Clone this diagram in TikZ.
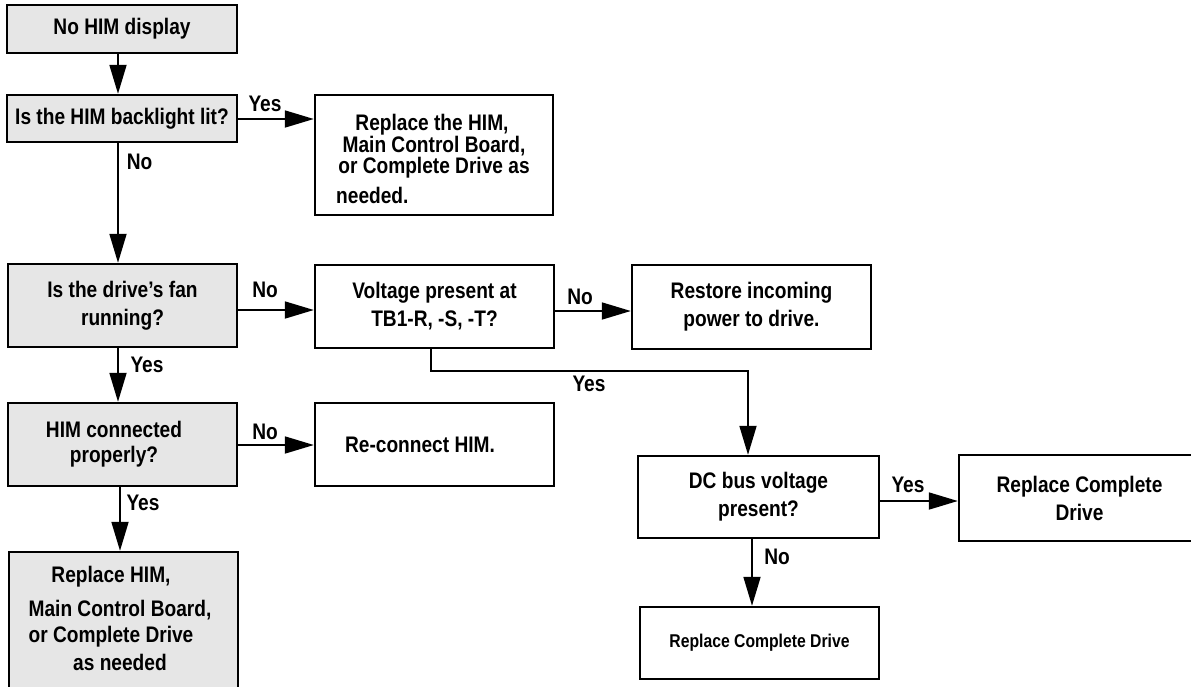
\documentclass[tikz,border=0pt]{standalone}
\usepackage{fontspec}
\newfontfamily\nar{Liberation Sans}[FakeStretch=0.85]
\usetikzlibrary{arrows.meta}
\definecolor{boxgray}{RGB}{230,230,230}
\begin{document}
\begin{tikzpicture}[x=1pt,y=-1pt,
  every node/.style={font=\nar\bfseries\fontsize{22.5}{28}\selectfont, inner sep=0pt},
  box/.style={draw, line width=2.4pt, align=center},
  gbox/.style={box, fill=boxgray},
  small/.style={font=\nar\bfseries\fontsize{18.5}{22}\selectfont},
  ln/.style={line width=1.8pt},
  arr/.style={ln, -{Triangle[length=29pt,width=17pt]}}
]
\useasboundingbox (0,0) rectangle (1191,686);
\clip (0,0) rectangle (1191,686);

% boxes
\node[gbox, minimum width=230pt, minimum height=48pt] (n1) at (122,29) {No HIM display};
\node[gbox, minimum width=230pt, minimum height=47pt] (n2) at (122,118.5) {Is the HIM backlight lit?};
\node[box, minimum width=238pt, minimum height=120pt] (n3) at (434,155) {};
\node[gbox, minimum width=229pt, minimum height=83pt] (n4) at (122.5,305.5) {Is the drive’s fan\\running?};
\node[box, minimum width=239pt, minimum height=83pt] (n5) at (434.5,306.5) {Voltage present at\\TB1-R, -S, -T?};
\node[box, minimum width=239pt, minimum height=84pt] (n6) at (751.5,307) {Restore incoming\\power to drive.};
\node[gbox, minimum width=229pt, minimum height=83pt] (n7) at (122.5,444.5) {};
\node[box, minimum width=239pt, minimum height=83pt] (n8) at (434.5,444.5) {};
\node[gbox, minimum width=229pt, minimum height=170pt] (n9) at (123.5,637) {};
\node[box, minimum width=241pt, minimum height=82pt] (n10) at (758.5,497) {DC bus voltage\\present?};
\node[box, minimum width=241pt, minimum height=86pt] (n11) at (1079.5,498) {Replace Complete\\Drive};
\node[box, small, minimum width=239pt, minimum height=72pt] (n12) at (759.5,643) {Replace Complete Drive};

% texts placed line by line
\node (t3a) at (432,125) {Replace the HIM,};
\node (t3b) at (434,146) {Main Control Board,};
\node (t3c) at (434,168) {or Complete Drive as};
\node[anchor=west] (t3d) at (336,195) {needed.};
\node[align=center] (t7) at (114,444.5) {HIM connected\\[-3pt]properly?};
\node (t8) at (420,445) {Re-connect HIM.};
\node (t9a) at (111,577) {Replace HIM,};
\node (t9b) at (120,610) {Main Control Board,};
\node (t9c) at (111,637) {or Complete Drive};
\node (t9d) at (120,662) {as needed};

% helper coordinates
\coordinate (c1) at (118,0);
\coordinate (c2) at (120,0);
\coordinate (c3) at (431,0);
\coordinate (c4) at (752,0);
\coordinate (r1) at (0,119);
\coordinate (r2) at (0,310);
\coordinate (r3) at (0,311);
\coordinate (r4) at (0,445);
\coordinate (r5) at (0,501);
\coordinate (yb) at (748,371);

% connectors
\draw[arr] (n1.south -| c1) -- (n2.north -| c1);
\draw[arr] (n2.south -| c1) -- (n4.north -| c1);
\draw[arr] (n4.south -| c1) -- (n7.north -| c1);
\draw[arr] (n7.south -| c2) -- (n9.north -| c2);
\draw[arr] (n2.east |- r1) -- (n3.west |- r1);
\draw[arr] (n4.east |- r2) -- (n5.west |- r2);
\draw[arr] (n5.east |- r3) -- (n6.west |- r3);
\draw[arr] (n7.east |- r4) -- (n8.west |- r4);
\draw[arr] (n5.south -| c3) |- (yb) -- (n10.north -| yb);
\draw[arr] (n10.east |- r5) -- (n11.west |- r5);
\draw[arr] (n10.south -| c4) -- (n12.north -| c4);

% labels
\node (l1) at (265,104) {Yes};
\node (l2) at (139.5,162) {No};
\node (l3) at (265,290) {No};
\node (l4) at (147,365) {Yes};
\node (l5) at (265,432) {No};
\node (l6) at (143,503) {Yes};
\node (l7) at (580,297) {No};
\node (l8) at (589,384) {Yes};
\node (l9) at (908,485) {Yes};
\node (l10) at (777,557) {No};
\end{tikzpicture}
\end{document}
